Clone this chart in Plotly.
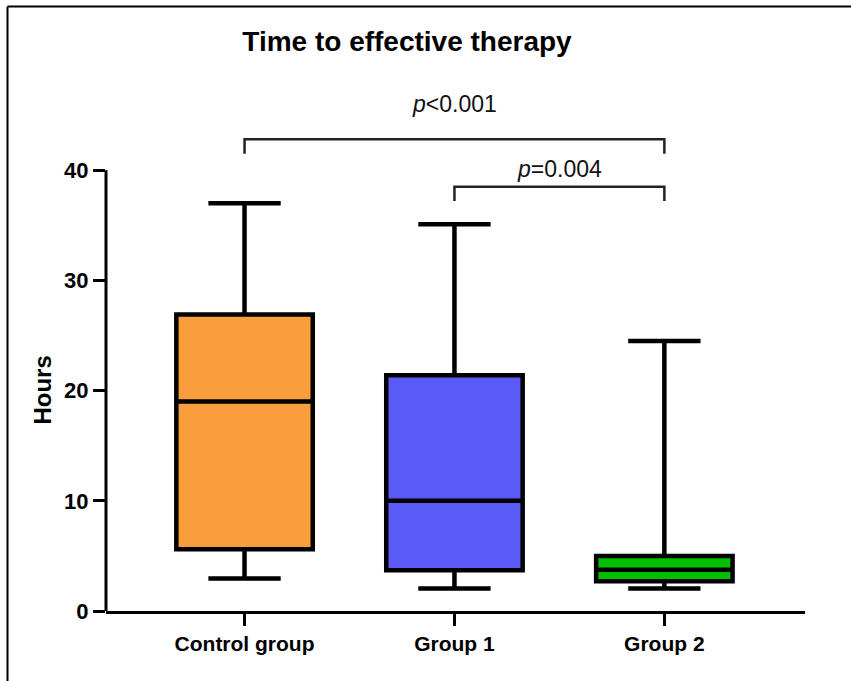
import plotly.graph_objects as go

categories = ["Control group", "Group 1", "Group 2"]
lower_whisker = [2.95, 2.05, 2.05]
q1_vals = [5.6, 3.7, 2.7]
median_vals = [19.0, 10.0, 3.75]
q3_vals = [26.9, 21.4, 5.0]
upper_whisker = [37.0, 35.1, 24.5]
fill_colors = ["#FA9E3D", "#5A5AF6", "#00C000"]
y_ticks = [0, 10, 20, 30, 40]

# significance brackets: (left index, right index, bar height, leg bottom, label, label y)
brackets = [
    (0, 2, 42.8, 41.5, "<i>p</i>&lt;0.001", 46.0),
    (1, 2, 38.5, 37.2, "<i>p</i>=0.004", 40.1),
]

W, H = 851, 681
L, R, T, B = 106, 46, 59.5, 70
Y_MAX = 50
X_RANGE = [-0.66, 2.67]

def px_to_paper_x(px):
    return (px - L) / (W - L - R)

def px_to_paper_y(py):
    return (H - B - py) / (H - T - B)

fig = go.Figure()
for i, cat in enumerate(categories):
    fig.add_trace(go.Box(
        x=[i],
        q1=[q1_vals[i]], median=[median_vals[i]], q3=[q3_vals[i]],
        lowerfence=[lower_whisker[i]], upperfence=[upper_whisker[i]],
        fillcolor=fill_colors[i],
        line=dict(color="black", width=4.5),
        width=0.65,
        whiskerwidth=0.53,
        boxpoints=False,
        showlegend=False,
        hoverinfo="skip",
    ))

shapes = []
annotations = []
for (a, b, yb, yl, label, ly) in brackets:
    shapes.append(dict(type="path", xref="x", yref="y",
                       path=f"M {a},{yl} L {a},{yb} L {b},{yb} L {b},{yl}",
                       line=dict(color="#222222", width=2.5)))
    annotations.append(dict(x=(a + b) / 2, y=ly, xref="x", yref="y",
                            text=label, showarrow=False,
                            font=dict(family="Liberation Sans, Arial", size=23, color="#111111")))

# y-axis line only up to 40
shapes.append(dict(type="line", xref="paper", yref="y", x0=0, x1=0, y0=-0.15, y1=40,
                   line=dict(color="black", width=3)))
# figure border (top and left visible)
shapes.append(dict(type="line", xref="paper", yref="paper",
                   x0=px_to_paper_x(7.5), x1=px_to_paper_x(860),
                   y0=px_to_paper_y(6), y1=px_to_paper_y(6),
                   line=dict(color="black", width=2)))
shapes.append(dict(type="line", xref="paper", yref="paper",
                   x0=px_to_paper_x(7.5), x1=px_to_paper_x(7.5),
                   y0=px_to_paper_y(6), y1=px_to_paper_y(700),
                   line=dict(color="black", width=2)))

# y-axis title
annotations.append(dict(x=px_to_paper_x(43), y=20, xref="paper", yref="y",
                        xanchor="center", yanchor="middle",
                        text="Hours", textangle=-90, showarrow=False,
                        font=dict(family="Liberation Sans, Arial", size=24, color="black", weight="bold")))

fig.update_layout(
    width=W, height=H,
    margin=dict(l=L, r=R, t=T, b=B),
    paper_bgcolor="white", plot_bgcolor="white",
    title=dict(text="Time to effective therapy", x=px_to_paper_x(407), xref="paper",
               xanchor="center", y=1 - 41 / H, yanchor="middle",
               font=dict(family="Liberation Sans, Arial", size=28, color="black", weight="bold")),
    shapes=shapes,
    annotations=annotations,
    boxmode="overlay",
)
fig.update_xaxes(
    range=X_RANGE, tickmode="array", tickvals=list(range(len(categories))), ticktext=categories,
    showline=True, linecolor="black", linewidth=3,
    ticks="outside", ticklen=12, tickwidth=3, tickcolor="black",
    showgrid=False, zeroline=False,
    tickfont=dict(family="Liberation Sans, Arial", size=21, color="black", weight="bold"),
)
fig.update_yaxes(
    range=[0, Y_MAX], tickmode="array", tickvals=y_ticks,
    showline=False, ticks="outside", ticklen=12, tickwidth=3, tickcolor="black",
    showgrid=False, zeroline=False,
    tickfont=dict(family="Liberation Sans, Arial", size=22, color="black", weight="bold"),
)

fig.write_html("out.html")
